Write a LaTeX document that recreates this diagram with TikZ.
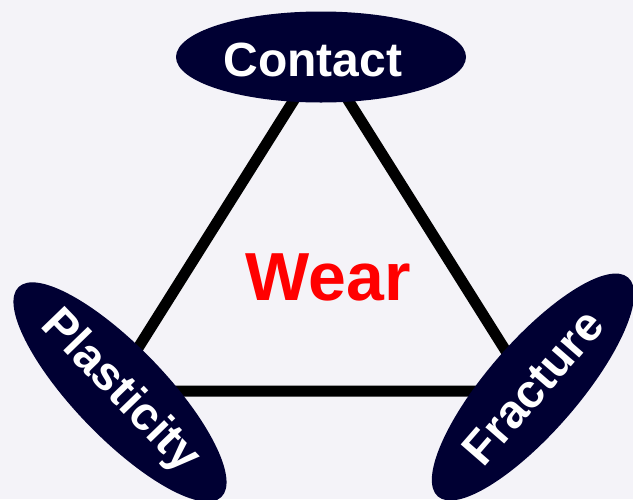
\documentclass[tikz,border=0pt]{standalone}
\usepackage{fontspec}
\setmainfont{Liberation Sans}
\usepackage{xcolor}
\usetikzlibrary{shapes.geometric}
\definecolor{paper}{RGB}{244,243,248}
\definecolor{navy}{RGB}{0,0,51}

\begin{document}
\begin{tikzpicture}[x=1pt, y=-1pt,
    blob/.style={ellipse, fill=navy, text=white, minimum width=290pt, minimum height=91pt,
        inner sep=0pt, font=\fontsize{47}{47}\selectfont\bfseries}]
    % Paper background, fixes the bounding area (0 < x < 633, 0 < y < 499)
    \fill[paper] (0,0) rectangle (633,499);
    \useasboundingbox (0,0) rectangle (633,499);

    % Corners of the triangle (hidden under the ellipses)
    \coordinate (apex) at (321,57);
    \coordinate (lcorner) at (111,391);
    \coordinate (rcorner) at (531,391);

    % Triangle in thick black
    \draw[black, line width=11pt] (apex) -- (lcorner) -- (rcorner) -- cycle;

    % The three ellipses (Contact text sits a bit left of centre)
    \node[blob, label={[text=white, font=\fontsize{48}{48}\selectfont\bfseries,
        xshift=-8pt, yshift=-3pt]center:Contact}] (contact) at (321,57) {};
    \node[blob, rotate=-46] (plasticity) at (120,392) {Plasticity};
    \node[blob, rotate=49] (fracture) at (533,387) {Fracture};

    % Label in the middle
    \node[text=red, font=\fontsize{68}{68}\selectfont\bfseries] (wear) at (328,277) {Wear};
\end{tikzpicture}
\end{document}
